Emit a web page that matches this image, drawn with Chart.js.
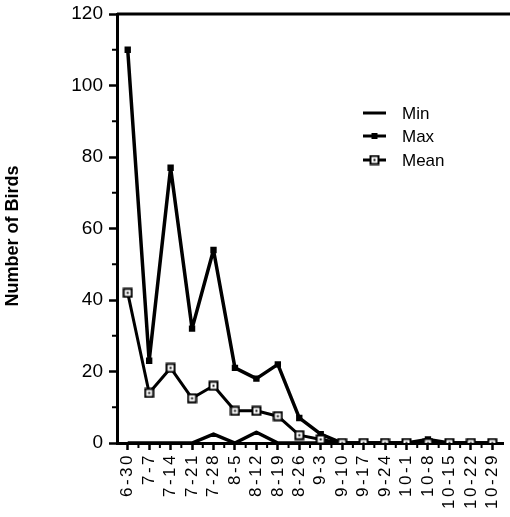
<!DOCTYPE html>
<html lang="en">
<head>
  <meta charset="UTF-8" />
  <title>Number of Birds</title>
  <script src="https://cdn.jsdelivr.net/npm/chart.js"></script>
  <style>
    html, body { margin: 0; padding: 0; background: #fff; }
    .chart-box { position: relative; width: 510px; height: 517px; }
  </style>
</head>
<body>
  <div class="chart-box">
    <canvas id="birdsChart"></canvas>
  </div>

  <script>
    // Survey dates (month-day)
    const dates = ["6-30", "7-7", "7-14", "7-21", "7-28", "8-5", "8-12", "8-19", "8-26",
                   "9-3", "9-10", "9-17", "9-24", "10-1", "10-8", "10-15", "10-22", "10-29"];

    // Values
    const minBirds  = [0, 0, 0, 0, 2.5, 0, 3, 0, 0, 0, 0, 0, 0, 0, 0, 0, 0, 0];
    const maxBirds  = [110, 23, 77, 32, 54, 21, 18, 22, 7, 2.5, 0, 0, 0, 0, 1, 0, 0, 0];
    const meanBirds = [42, 14, 21, 12.5, 16, 9, 9, 7.5, 2.2, 1, 0, 0, 0, 0, 0, 0, 0, 0];

    const yTicks = [0, 20, 40, 60, 80, 100, 120];
    const yMinorTicks = [10, 30, 50, 70, 90, 110];

    const FONT = "'Liberation Sans', Arial, Helvetica, sans-serif";

    // Open square with a small dot in the middle, used for the Mean series.
    function makeMeanMarker() {
      const c = document.createElement("canvas");
      c.width = 11; c.height = 11;
      const g = c.getContext("2d");
      g.fillStyle = "#000";
      g.fillRect(0.5, 0.5, 10, 10);
      g.fillStyle = "#fff";
      g.fillRect(2.5, 2.5, 6, 6);
      g.fillStyle = "#000";
      g.fillRect(4.5, 4.5, 2, 2);
      return c;
    }
    const meanMarker = makeMeanMarker();

    // Extra drawing: top border, minor ticks, rotated x labels, y title, legend.
    const extrasPlugin = {
      id: "extras",
      afterDraw(chart) {
        const ctx = chart.ctx;
        const xs = chart.scales.x;
        const ys = chart.scales.y;
        const area = chart.chartArea;
        ctx.save();
        ctx.strokeStyle = "#000";
        ctx.fillStyle = "#000";

        // top line at 120
        ctx.lineWidth = 3;
        ctx.beginPath();
        ctx.moveTo(area.left, ys.getPixelForValue(120));
        ctx.lineTo(chart.width, ys.getPixelForValue(120));
        ctx.stroke();

        // minor ticks
        ctx.lineWidth = 2;
        yMinorTicks.forEach(v => {
          const y = ys.getPixelForValue(v);
          ctx.beginPath();
          ctx.moveTo(area.left - 5, y);
          ctx.lineTo(area.left, y);
          ctx.stroke();
        });
        for (let i = 0; i < dates.length - 1; i++) {
          const x = (xs.getPixelForTick(i) + xs.getPixelForTick(i + 1)) / 2;
          ctx.beginPath();
          ctx.moveTo(x, area.bottom);
          ctx.lineTo(x, area.bottom + 5);
          ctx.stroke();
        }

        // x labels, rotated, with a bit of letter spacing
        ctx.font = "17px " + FONT;
        ctx.letterSpacing = "2.5px";
        ctx.textAlign = "right";
        ctx.textBaseline = "middle";
        dates.forEach((d, i) => {
          ctx.save();
          ctx.translate(xs.getPixelForTick(i), area.bottom + 10);
          ctx.rotate(-Math.PI / 2);
          ctx.fillText(d, 0, 0);
          ctx.restore();
        });
        ctx.letterSpacing = "0px";

        // y axis title
        ctx.save();
        ctx.font = "bold 18px " + FONT;
        ctx.textAlign = "center";
        ctx.textBaseline = "middle";
        ctx.translate(13, 236);
        ctx.rotate(-Math.PI / 2);
        ctx.fillText("Number of Birds", 0, 0);
        ctx.restore();

        // legend
        const items = [
          { label: "Min", y: 113, marker: null },
          { label: "Max", y: 136, marker: "square" },
          { label: "Mean", y: 160, marker: "mean" }
        ];
        ctx.font = "17px " + FONT;
        ctx.textAlign = "left";
        ctx.textBaseline = "middle";
        items.forEach(it => {
          ctx.lineWidth = 3;
          ctx.beginPath();
          ctx.moveTo(363, it.y);
          ctx.lineTo(386, it.y);
          ctx.stroke();
          if (it.marker === "square") {
            ctx.fillRect(371.5, it.y - 3, 6, 6);
          } else if (it.marker === "mean") {
            ctx.drawImage(meanMarker, 369, it.y - 5.5);
          }
          ctx.fillText(it.label, 402, it.y + 1);
        });

        ctx.restore();
      }
    };

    const ctx = document.getElementById("birdsChart").getContext("2d");
    new Chart(ctx, {
      type: "line",
      data: {
        labels: dates,
        datasets: [
          {
            label: "Min",
            data: minBirds,
            borderColor: "#000",
            borderWidth: 3.5,
            borderJoinStyle: "round",
            pointRadius: 0,
            tension: 0,
            order: 2
          },
          {
            label: "Max",
            data: maxBirds,
            borderColor: "#000",
            backgroundColor: "#000",
            borderWidth: 3.5,
            borderJoinStyle: "round",
            pointStyle: "rect",
            pointRadius: 4.5,
            pointBorderWidth: 0,
            tension: 0,
            order: 1
          },
          {
            label: "Mean",
            data: meanBirds,
            borderColor: "#000",
            borderWidth: 3,
            borderJoinStyle: "round",
            pointStyle: meanMarker,
            tension: 0,
            order: 0
          }
        ]
      },
      options: {
        responsive: true,
        maintainAspectRatio: false,
        animation: false,
        layout: { padding: { top: 14, right: -3, left: 0, bottom: 0 } },
        plugins: {
          legend: { display: false },
          tooltip: { enabled: false }
        },
        scales: {
          x: {
            offset: true,
            grid: {
              offset: false,
              drawOnChartArea: false,
              tickLength: 7,
              tickWidth: 2.5,
              color: "#000"
            },
            border: { display: true, color: "#000", width: 3 },
            ticks: { display: false },
            afterFit(scale) { scale.height = 74; }
          },
          y: {
            min: 0,
            max: 120,
            afterBuildTicks(scale) { scale.ticks = yTicks.map(v => ({ value: v })); },
            grid: {
              drawOnChartArea: false,
              tickLength: 8,
              tickWidth: 2.5,
              color: "#000"
            },
            border: { display: true, color: "#000", width: 3 },
            ticks: {
              color: "#000",
              padding: 6,
              font: { family: FONT, size: 19 }
            },
            afterFit(scale) {
              scale.width = 117;
              scale.paddingTop = 0;
              scale.paddingBottom = 0;
            }
          }
        }
      },
      plugins: [extrasPlugin]
    });
  </script>
</body>
</html>
